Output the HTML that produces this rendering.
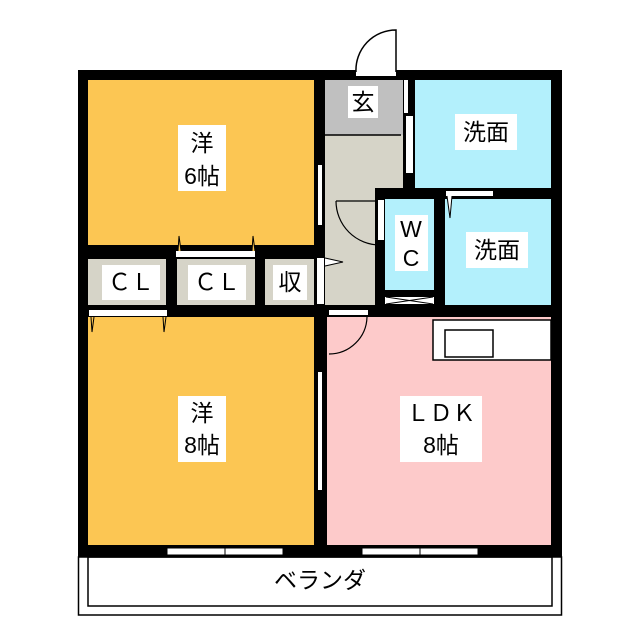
<!DOCTYPE html><html><head><style>body{margin:0;background:#fff}svg{display:block}text{font-family:"Liberation Sans","Noto Sans CJK JP",sans-serif;fill:#000;text-anchor:middle;dominant-baseline:central}</style></head><body>
<svg width="640" height="640" viewBox="0 0 640 640">
<rect x="78" y="70" width="484" height="487" fill="#000"/>
<rect x="88" y="80" width="226" height="165" fill="#fcc653"/>
<rect x="88" y="317" width="226" height="228" fill="#fcc653"/>
<rect x="88" y="259" width="78" height="46" fill="#d6d4c8"/>
<rect x="177" y="259" width="78" height="46" fill="#d6d4c8"/>
<rect x="265" y="259" width="49" height="46" fill="#d6d4c8"/>
<rect x="325" y="80" width="78" height="108" fill="#d6d4c8"/>
<rect x="325" y="188" width="50" height="117" fill="#d6d4c8"/>
<rect x="325" y="80" width="78" height="55" fill="#c0c0c0"/>
<line x1="325" y1="135" x2="401" y2="135" stroke="#000" stroke-width="1.5"/>
<rect x="415" y="80" width="136" height="108" fill="#b3f0fc"/>
<rect x="385" y="199" width="49" height="91" fill="#b3f0fc"/>
<rect x="445" y="199" width="106" height="106" fill="#b3f0fc"/>
<rect x="327" y="317" width="224" height="228" fill="#fdcaca"/>
<rect x="433" y="320" width="118" height="40" fill="#fff" stroke="#000" stroke-width="1.5"/>
<rect x="445" y="330" width="48" height="27" fill="#fff" stroke="#000" stroke-width="1.5"/>
<!-- X vent -->
<rect x="385" y="297" width="49" height="7" fill="#fff"/>
<path d="M386 297 L433 304 M386 304 L433 297" stroke="#000" stroke-width="1"/>
<!-- doors -->
<rect x="356" y="70" width="40" height="6" fill="#fff"/>
<path d="M396 72 V30 A40 40 0 0 0 356 72" fill="#fff" stroke="#000" stroke-width="1.5"/>
<rect x="404" y="80" width="4" height="33" fill="#fff"/>
<rect x="406" y="116" width="7" height="57" fill="#fff"/>
<path d="M336 201 H376 M336 201 A44 44 0 0 0 380 245" fill="none" stroke="#000" stroke-width="1.2"/>
<rect x="378" y="200" width="6" height="40" fill="#fff"/>
<rect x="446" y="191" width="47" height="5" fill="#fff"/>
<path d="M447 196 L450 218 L452 196" fill="#fff" stroke="#000"/>
<rect x="329" y="310" width="39" height="5" fill="#fff"/>
<path d="M329 354 A38 38 0 0 0 367 317" fill="none" stroke="#000" stroke-width="1.2"/>
<rect x="318" y="165" width="4" height="60" fill="#fff"/>
<rect x="317" y="258" width="7" height="46" fill="#fff"/>
<path d="M325 258 L343 262 L325 266" fill="#fff" stroke="#000"/>
<rect x="318" y="372" width="4" height="118" fill="#fff"/>
<rect x="176" y="251" width="79" height="6" fill="#fff"/>
<path d="M178 251 L179 236 L181 251 M252 251 L253 236 L255 251" fill="#fcc653" stroke="#000"/>
<rect x="89" y="310" width="78" height="6" fill="#fff"/>
<path d="M91 317 L92 332 L94 317 M163 317 L164 332 L166 317" fill="#fcc653" stroke="#000"/>
<rect x="167" y="548" width="116" height="7" fill="#fff" stroke="#000" stroke-width="1"/>
<rect x="362" y="548" width="116" height="7" fill="#fff" stroke="#000" stroke-width="1"/>
<line x1="225" y1="545" x2="225" y2="557" stroke="#000"/>
<line x1="420" y1="545" x2="420" y2="557" stroke="#000"/>
<!-- veranda -->
<rect x="78.5" y="557" width="483" height="58" fill="#fff" stroke="#000" stroke-width="1.5"/>
<rect x="88" y="557" width="464" height="49" fill="none" stroke="#000" stroke-width="1.5"/>
<!-- labels -->
<g font-size="23">
<rect x="178" y="125" width="48" height="66" fill="#fff"/><text x="202" y="143">洋</text><text x="202" y="176">6帖</text>
<rect x="178" y="396" width="48" height="66" fill="#fff"/><text x="202" y="413">洋</text><text x="202" y="445">8帖</text>
<rect x="400" y="396" width="82" height="66" fill="#fff"/><text x="441" y="413">ＬＤＫ</text><text x="441" y="445">8帖</text>
<rect x="455" y="114" width="62" height="36" fill="#fff"/><text x="486" y="132">洗面</text>
<rect x="466" y="232" width="62" height="36" fill="#fff"/><text x="497" y="250">洗面</text>
<rect x="395" y="215" width="33" height="56" fill="#fff"/><text x="411" y="229">W</text><text x="411" y="258">C</text>
<rect x="348" y="86" width="30" height="32" fill="#fff"/><text x="363" y="102">玄</text>
<rect x="102" y="265" width="58" height="35" fill="#fff"/><text x="131" y="282">ＣＬ</text>
<rect x="188" y="265" width="58" height="35" fill="#fff"/><text x="217" y="282">ＣＬ</text>
<rect x="273" y="265" width="34" height="35" fill="#fff"/><text x="290" y="282">収</text>
<text x="320" y="580">ベランダ</text>
</g>
</svg></body></html>
